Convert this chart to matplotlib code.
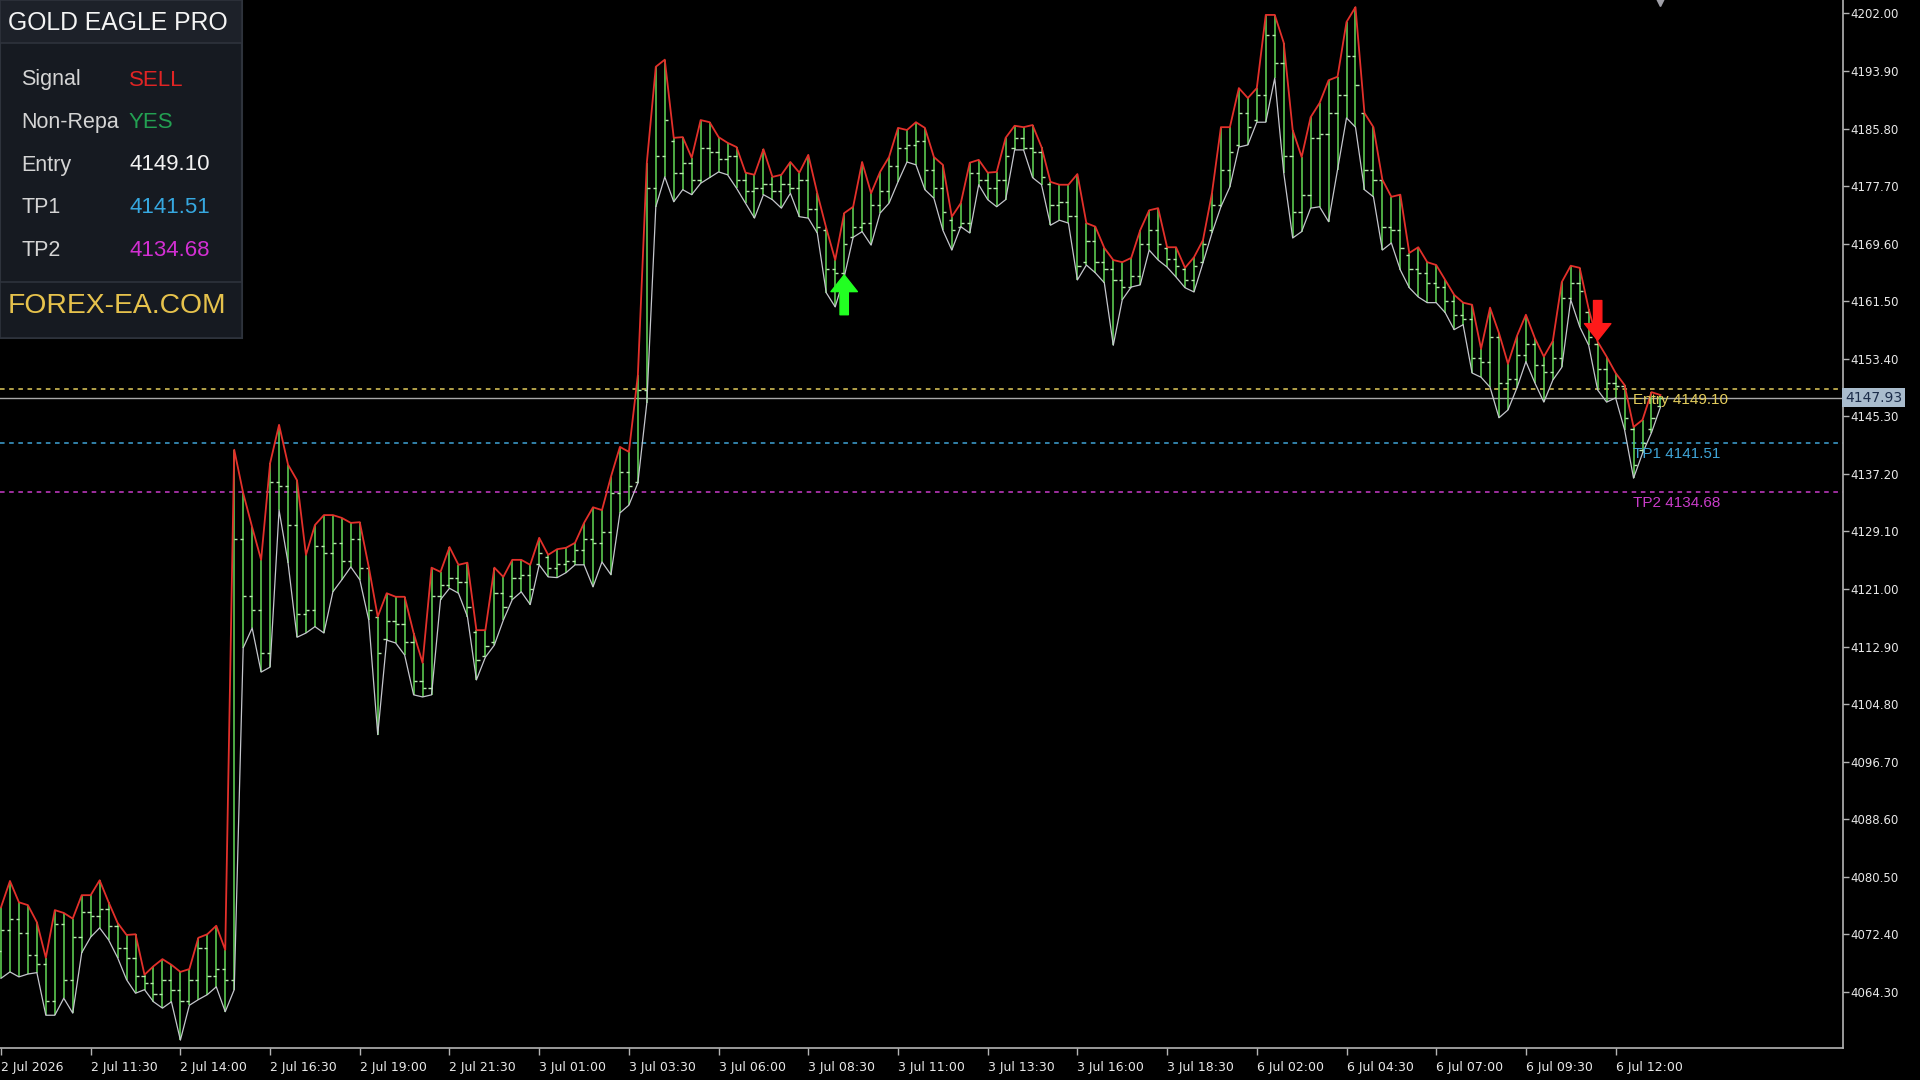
import matplotlib.pyplot as plt
from matplotlib.collections import LineCollection
from matplotlib.patches import Rectangle
import numpy as np

# 15-minute bars
highs = [
    4076.2, 4079.9, 4076.9, 4076.5, 4074.1, 4069.1, 4075.8, 4075.4, 4074.6, 4077.9,
    4077.9, 4080.0, 4076.9, 4074.0, 4072.3, 4072.4, 4066.7, 4067.9, 4068.9, 4068.1,
    4067.1, 4067.5, 4071.9, 4072.4, 4073.6, 4070.2, 4140.6, 4134.5, 4129.7, 4125.1,
    4138.7, 4144.1, 4138.5, 4136.3, 4125.8, 4130.0, 4131.4, 4131.4, 4131.0, 4130.3,
    4130.4, 4124.1, 4117.1, 4120.4, 4119.9, 4119.9, 4114.8, 4110.6, 4124.0, 4123.4,
    4126.9, 4124.4, 4124.7, 4115.2, 4115.2, 4124.0, 4122.7, 4125.1, 4125.1, 4124.4,
    4128.2, 4125.8, 4126.6, 4126.8, 4127.5, 4130.3, 4132.5, 4132.1, 4136.8, 4141.0,
    4140.3, 4151.1, 4181.0, 4194.5, 4195.5, 4184.5, 4184.6, 4181.7, 4187.0, 4186.7,
    4184.6, 4183.8, 4183.2, 4179.6, 4179.3, 4182.9, 4179.0, 4179.3, 4181.1, 4179.6,
    4182.1, 4176.7, 4171.8, 4167.3, 4173.9, 4174.8, 4181.1, 4176.7, 4179.7, 4181.8,
    4185.9, 4185.6, 4186.7, 4185.9, 4181.8, 4180.7, 4173.4, 4175.3, 4181.0, 4181.4,
    4179.6, 4179.7, 4184.5, 4186.2, 4186.0, 4186.3, 4183.2, 4178.3, 4177.9, 4177.9,
    4179.4, 4172.5, 4172.0, 4169.0, 4167.3, 4167.0, 4167.6, 4171.5, 4174.3, 4174.6,
    4169.1, 4169.1, 4166.2, 4167.7, 4170.1, 4176.7, 4186.0, 4186.0, 4191.5, 4190.1,
    4191.5, 4201.8, 4201.8, 4197.9, 4185.6, 4181.8, 4187.4, 4189.4, 4192.6, 4193.1,
    4200.8, 4202.9, 4188.0, 4186.0, 4178.6, 4176.2, 4176.5, 4168.3, 4169.1, 4167.0,
    4166.6, 4164.5, 4162.4, 4161.3, 4161.0, 4154.8, 4160.6, 4157.0, 4152.7, 4156.6,
    4159.6, 4156.3, 4153.7, 4155.9, 4164.2, 4166.5, 4166.2, 4160.4, 4155.8, 4153.7,
    4151.4, 4149.7, 4143.8, 4144.8, 4148.7, 4148.3,
]
lows = [
    4066.2, 4067.1, 4066.4, 4066.8, 4067.0, 4061.0, 4061.0, 4063.4, 4061.3, 4069.8,
    4072.0, 4073.3, 4071.6, 4069.1, 4066.0, 4064.1, 4064.6, 4062.9, 4062.0, 4062.9,
    4057.5, 4062.4, 4063.2, 4063.9, 4065.0, 4061.5, 4064.6, 4112.7, 4115.5, 4109.3,
    4110.0, 4132.1, 4124.7, 4114.2, 4114.8, 4115.7, 4114.8, 4120.6, 4122.3, 4124.1,
    4122.3, 4116.6, 4100.5, 4113.8, 4113.4, 4111.7, 4106.1, 4105.8, 4106.1, 4119.5,
    4121.1, 4120.4, 4117.1, 4108.2, 4111.4, 4113.1, 4116.6, 4119.5, 4120.6, 4118.8,
    4124.4, 4122.7, 4122.6, 4123.3, 4124.4, 4124.4, 4121.3, 4124.8, 4123.0, 4131.7,
    4132.8, 4135.9, 4147.2, 4174.8, 4179.0, 4175.5, 4177.2, 4176.5, 4178.1, 4178.9,
    4179.7, 4179.3, 4177.4, 4175.3, 4173.2, 4176.5, 4175.8, 4174.6, 4176.7, 4173.4,
    4173.2, 4171.1, 4162.7, 4160.7, 4164.9, 4170.5, 4171.3, 4169.4, 4173.9, 4175.3,
    4178.3, 4181.1, 4180.7, 4177.2, 4176.0, 4171.5, 4168.7, 4172.0, 4171.1, 4177.9,
    4175.8, 4174.8, 4175.8, 4182.8, 4182.8, 4178.9, 4177.9, 4172.2, 4172.9, 4172.5,
    4164.5, 4166.6, 4165.5, 4164.1, 4155.3, 4161.7, 4163.5, 4163.8, 4168.7, 4167.3,
    4166.3, 4164.9, 4163.4, 4162.8, 4166.9, 4171.1, 4174.8, 4177.6, 4183.2, 4183.5,
    4186.7, 4186.7, 4192.9, 4179.6, 4170.4, 4171.3, 4174.6, 4174.8, 4172.7, 4180.0,
    4187.3, 4186.0, 4177.2, 4176.2, 4168.7, 4169.7, 4165.9, 4163.4, 4162.1, 4161.3,
    4161.3, 4159.9, 4157.5, 4158.2, 4151.4, 4150.8, 4149.4, 4145.1, 4146.2, 4149.3,
    4153.0, 4150.0, 4147.3, 4150.4, 4152.2, 4161.7, 4157.9, 4155.3, 4149.0, 4147.3,
    4147.9, 4143.4, 4136.6, 4140.1, 4143.0, 4146.6,
]
opens = [
    4070.0, 4073.0, 4074.5, 4072.6, 4069.5, 4068.2, 4063.0, 4073.8, 4066.0, 4072.0,
    4075.5, 4075.0, 4076.0, 4073.5, 4070.5, 4069.0, 4066.5, 4065.5, 4064.0, 4066.0,
    4064.5, 4063.0, 4066.0, 4070.5, 4066.5, 4067.5, 4066.0, 4128.0, 4120.0, 4118.0,
    4112.0, 4136.0, 4135.5, 4130.0, 4117.5, 4118.0, 4127.0, 4126.0, 4127.5, 4125.0,
    4128.0, 4124.0, 4117.0, 4114.0, 4116.5, 4116.0, 4113.5, 4108.0, 4107.0, 4120.0,
    4121.5, 4122.5, 4122.0, 4115.0, 4111.5, 4113.5, 4120.5, 4120.0, 4122.5, 4123.0,
    4124.5, 4125.5, 4124.0, 4124.5, 4125.0, 4126.5, 4128.0, 4127.5, 4129.0, 4134.5,
    4137.5, 4136.0, 4149.0, 4177.5, 4182.0, 4184.0, 4179.5, 4181.0, 4178.5, 4183.0,
    4182.5, 4181.5, 4182.0, 4178.5, 4177.0, 4177.5, 4178.0, 4177.0, 4178.0, 4177.5,
    4178.5, 4174.5, 4171.5, 4166.0, 4165.5, 4170.5, 4172.0, 4172.5, 4175.0, 4177.0,
    4180.5, 4183.0, 4183.5, 4184.0, 4180.0, 4177.5, 4173.0, 4172.0, 4172.5, 4179.5,
    4178.5, 4177.5, 4178.5, 4183.0, 4184.5, 4183.0, 4182.5, 4178.0, 4175.0, 4175.5,
    4173.5, 4167.0, 4170.0, 4167.0, 4166.0, 4164.5, 4163.5, 4165.0, 4169.5, 4171.5,
    4169.0, 4167.5, 4166.0, 4164.5, 4167.0, 4171.5, 4175.0, 4180.0, 4183.5, 4188.0,
    4187.0, 4190.5, 4199.0, 4195.0, 4182.0, 4174.0, 4176.5, 4184.5, 4185.0, 4188.0,
    4190.5, 4196.0, 4188.0, 4180.0, 4178.5, 4172.0, 4171.5, 4168.0, 4166.0, 4165.5,
    4164.0, 4163.5, 4161.5, 4159.5, 4159.0, 4153.5, 4153.0, 4156.5, 4150.0, 4150.5,
    4154.0, 4155.5, 4152.5, 4151.5, 4153.5, 4162.0, 4164.0, 4160.0, 4155.5, 4152.0,
    4150.0, 4149.5, 4143.5, 4140.5, 4143.5, 4146.8,
]
closes = [
    4073.0, 4074.5, 4072.6, 4069.5, 4068.2, 4063.0, 4073.8, 4066.0, 4072.0, 4075.5,
    4075.0, 4076.0, 4073.5, 4070.5, 4069.0, 4066.5, 4065.5, 4064.0, 4066.0, 4064.5,
    4063.0, 4066.0, 4070.5, 4066.5, 4067.5, 4066.0, 4128.0, 4120.0, 4118.0, 4112.0,
    4136.0, 4135.5, 4130.0, 4117.5, 4118.0, 4127.0, 4126.0, 4127.5, 4125.0, 4128.0,
    4124.0, 4118.0, 4112.0, 4116.5, 4116.0, 4113.5, 4108.0, 4107.0, 4120.0, 4121.5,
    4122.5, 4122.0, 4118.5, 4111.0, 4113.0, 4120.5, 4118.5, 4122.5, 4123.0, 4121.0,
    4126.0, 4124.0, 4124.5, 4125.0, 4126.5, 4128.0, 4127.5, 4129.0, 4134.5, 4137.5,
    4135.5, 4149.0, 4177.5, 4182.0, 4187.0, 4179.5, 4181.0, 4178.5, 4183.0, 4182.5,
    4181.5, 4182.0, 4178.5, 4177.0, 4177.5, 4178.0, 4177.0, 4178.0, 4177.5, 4178.5,
    4174.5, 4172.0, 4166.0, 4165.5, 4169.5, 4172.0, 4172.5, 4175.0, 4177.0, 4180.5,
    4183.0, 4183.5, 4184.0, 4180.0, 4177.5, 4174.0, 4171.5, 4172.5, 4179.5, 4178.5,
    4177.5, 4178.5, 4182.0, 4184.5, 4183.0, 4182.5, 4179.0, 4175.0, 4175.5, 4173.5,
    4166.5, 4170.0, 4167.0, 4166.0, 4164.5, 4163.5, 4165.0, 4169.5, 4171.5, 4169.5,
    4167.5, 4166.5, 4164.5, 4166.5, 4169.5, 4175.0, 4180.0, 4182.5, 4188.0, 4186.0,
    4190.5, 4199.0, 4195.0, 4182.0, 4174.0, 4176.5, 4184.5, 4185.0, 4188.0, 4190.5,
    4196.0, 4192.0, 4180.0, 4178.5, 4172.0, 4171.5, 4169.0, 4166.0, 4165.5, 4164.0,
    4163.5, 4161.5, 4159.5, 4159.0, 4153.5, 4153.0, 4156.5, 4150.0, 4150.5, 4154.0,
    4155.5, 4152.5, 4151.5, 4153.5, 4162.0, 4164.0, 4163.0, 4156.5, 4152.0, 4150.0,
    4149.5, 4145.0, 4138.5, 4141.5, 4145.0, 4147.93,
]

x_tick_bars = [0, 10, 20, 30, 40, 50, 60, 70, 80, 90, 100, 110, 120, 130, 140, 150, 160, 170, 180]
x_tick_labels = ["2 Jul 2026", "2 Jul 11:30", "2 Jul 14:00", "2 Jul 16:30", "2 Jul 19:00",
                 "2 Jul 21:30", "3 Jul 01:00", "3 Jul 03:30", "3 Jul 06:00", "3 Jul 08:30",
                 "3 Jul 11:00", "3 Jul 13:30", "3 Jul 16:00", "3 Jul 18:30", "6 Jul 02:00",
                 "6 Jul 04:30", "6 Jul 07:00", "6 Jul 09:30", "6 Jul 12:00"]
y_ticks = [4202.00, 4193.90, 4185.80, 4177.70, 4169.60, 4161.50, 4153.40, 4145.30, 4137.20,
           4129.10, 4121.00, 4112.90, 4104.80, 4096.70, 4088.60, 4080.50, 4072.40, 4064.30]

level_names = ["Entry", "TP1", "TP2"]
level_values = [4149.10, 4141.51, 4134.68]
level_colors = ["#e3cc5c", "#3fa4d6", "#c93cc9"]
current_price = 4147.93

signal_bars = [94, 178]
signal_prices = [4165.2, 4156.0]   # arrow tip
signal_types = ["buy", "sell"]

panel_rows = [("Signal", "SELL", "#e02424"),
              ("Non-Repa", "YES", "#23a052"),
              ("Entry", "4149.10", "#f2f2f2"),
              ("TP1", "4141.51", "#36a8e0"),
              ("TP2", "4134.68", "#d22fd2")]

NARROW = ["Liberation Sans Narrow", "Liberation Sans", "DejaVu Sans"]
GREEN = "#63d957"

fig = plt.figure(figsize=(19.2, 10.8), dpi=100, facecolor="black")
ax = fig.add_axes([0, 32 / 1080, 1843 / 1920, 1048 / 1080])
ax.set_facecolor("black")

x = np.arange(len(highs))
tick = 0.36

# bars: high-low stick, open tick left, close tick right
sticks = [[(xi, lo), (xi, hi)] for xi, lo, hi in zip(x, lows, highs)]
otick = [[(xi - tick, o), (xi, o)] for xi, o in zip(x, opens)]
ctick = [[(xi, c), (xi + tick, c)] for xi, c in zip(x, closes)]
ax.add_collection(LineCollection(sticks, colors=GREEN, linewidths=1.1, zorder=2))
ax.add_collection(LineCollection(otick + ctick, colors="#b8eab0", linewidths=1.0, zorder=2))

ax.plot(x, highs, color="#e3302a", lw=1.3, zorder=3)
ax.plot(x, lows, color="#c4c6cc", lw=0.9, zorder=3)

# levels
for name, val, col in zip(level_names, level_values, level_colors):
    ax.axhline(val, color=col, lw=1.1, ls=(0, (3, 3)), zorder=1)
    ax.text(181.9, val - 0.55, f"{name} {val:.2f}", color=col, fontsize=11,
            family=NARROW, ha="left", va="top", zorder=4)
ax.axhline(current_price, color="#a8a8a8", lw=1.0, zorder=1)

# signal arrows
for b, p, kind in zip(signal_bars, signal_prices, signal_types):
    if kind == "buy":
        tail, col = p - 5.6, "#22ff22"
    else:
        tail, col = p + 5.6, "#ff1a1a"
    ax.annotate("", xy=(b, p), xytext=(b, tail), zorder=5,
                arrowprops=dict(arrowstyle="simple,head_width=0.95,head_length=0.6,tail_width=0.3",
                                color=col, mutation_scale=20, shrinkA=0, shrinkB=0))

ax.set_xlim(-0.11, 205.35)
ax.set_ylim(4056.39, 4203.90)

# axes styling (MT4 look)
for s in ("left", "top"):
    ax.spines[s].set_visible(False)
for s in ("right", "bottom"):
    ax.spines[s].set_color("#b4b4b4")
    ax.spines[s].set_linewidth(1.2)
ax.yaxis.tick_right()
ax.set_yticks(y_ticks)
ax.set_yticklabels([f"{v:.2f}" for v in y_ticks])
ax.tick_params(axis="y", direction="out", length=4, width=1, colors="#b4b4b4",
               labelcolor="#e8e8e8", labelsize=8.5, pad=1)
ax.set_xticks(x_tick_bars)
ax.set_xticklabels(x_tick_labels, ha="left")
ax.tick_params(axis="x", direction="out", length=5, width=1, colors="#b4b4b4",
               labelcolor="#e8e8e8", labelsize=9, pad=4)

# current price tag
ax.text(1.0012, current_price, f"{current_price:.2f}", transform=ax.get_yaxis_transform(),
        color="#1c2d4a", fontsize=10, ha="left", va="center", clip_on=False, zorder=6,
        bbox=dict(boxstyle="square,pad=0.2", fc="#a9bccd", ec="none"))

# chart shift marker
ax.plot([len(highs) - 1], [4203.9], marker="v", color="#a0a0a8", markersize=8,
        clip_on=False, zorder=6)

# info panel
pn = fig.add_axes([0, 1 - 340 / 1080, 244 / 1920, 340 / 1080])
pn.set_xlim(0, 244)
pn.set_ylim(340, 0)
pn.axis("off")
pn.add_patch(Rectangle((0, 0), 242, 338, fc="#161a21", ec="#2e333c", lw=1.5))
pn.add_patch(Rectangle((0, 0), 242, 43, fc="#1d2129", ec="#2e333c", lw=1.2))
pn.add_patch(Rectangle((0, 282), 242, 56, fc="#161a21", ec="#2e333c", lw=1.2))
pn.text(8, 23, "GOLD EAGLE PRO", color="#f4f4f4", fontsize=17.8, family=NARROW, va="center")
for k, (lab, val, col) in enumerate(panel_rows):
    yy = 80 + 42.5 * k
    pn.text(21, yy, lab, color="#d4d4d4", fontsize=15.5, family=NARROW, va="center")
    pn.text(129, yy, val, color=col, fontsize=16, family=NARROW, va="center")
pn.text(8, 306, "FOREX-EA.COM", color="#e6c24c", fontsize=20.3, family=NARROW, va="center")

fig.savefig("out.png", dpi=100, facecolor="black")
